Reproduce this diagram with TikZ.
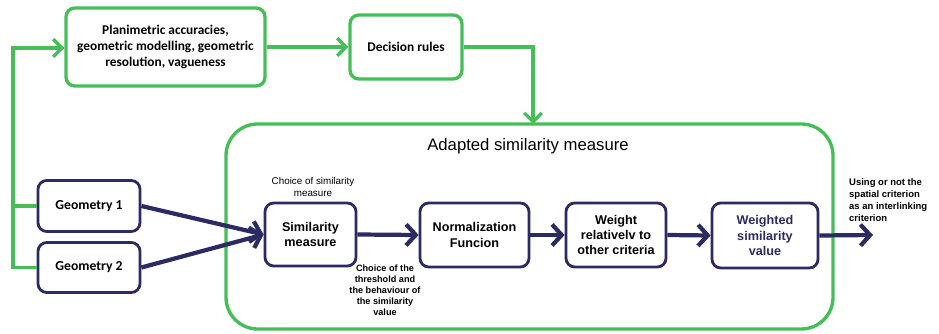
\documentclass[tikz,border=0pt]{standalone}
\usepackage{fontspec}
\setmainfont{Liberation Sans}
\newfontfamily\calibri{Carlito}
\usetikzlibrary{arrows.meta}

\definecolor{boxgreen}{HTML}{45BE57}
\definecolor{navy}{HTML}{2B2A62}

\begin{document}
\begin{tikzpicture}[
  gbox/.style={draw=boxgreen, line width=1.9pt, rounded corners=5pt, align=center,
    font=\calibri\bfseries\fontsize{7.6}{9}\selectfont},
  nbox/.style={draw=navy, line width=1.6pt, rounded corners=5pt, align=center,
    minimum height=1.28cm, font=\bfseries\fontsize{7.2}{8.6}\selectfont},
  gline/.style={draw=boxgreen, line width=1.9pt},
  garrow/.style={gline, -{Straight Barb[length=5pt,width=10pt,line width=1.9pt]}},
  narrow/.style={draw=navy, line width=2.4pt, -{Straight Barb[length=5.5pt,width=12pt,line width=2.4pt]}},
  note/.style={align=center, font=\fontsize{5.6}{6.3}\selectfont}
]
\useasboundingbox (0,0) rectangle (18.78,6.66);

% top row
\node[gbox, minimum width=3.98cm, minimum height=1.56cm] (plan) at (3.31,5.72)
  {Planimetric accuracies,\\geometric modelling, geometric\\resolution, vagueness};
\node[gbox, minimum width=2.24cm, minimum height=1.28cm] (rules) at (8.12,5.72) {Decision rules};

% adapted similarity measure
\draw[boxgreen, line width=1.9pt, rounded corners=18pt] (4.52,0.08) rectangle (16.66,4.18);
\coordinate (adtop) at (10.66,4.18);
\node[font=\fontsize{9.5}{11}\selectfont] (title) at (10.56,3.73) {Adapted similarity measure};

% geometries
\node[nbox, minimum width=2.04cm, minimum height=1.02cm, font=\calibri\bfseries\fontsize{7.8}{9}\selectfont] (geoa) at (1.78,2.54) {Geometry 1};
\node[nbox, minimum width=2.04cm, minimum height=1.0cm, font=\calibri\bfseries\fontsize{7.8}{9}\selectfont] (geob) at (1.78,1.31) {Geometry 2};

\node[nbox, minimum width=1.82cm, minimum height=1.26cm] (sim) at (6.21,1.97) {Similarity\\measure};
\node[nbox, minimum width=2.18cm] (norm) at (9.49,1.96) {Normalization\\Funcion};
\node[nbox, minimum width=2.0cm] (weight) at (12.32,1.96) {Weight\\relativelv to\\other criteria};
\node[nbox, minimum width=2.12cm, minimum height=1.3cm, text=navy] (wsv) at (15.30,1.95) {Weighted\\similarity\\value};
\coordinate (out) at (17.46,1.96);

\node[note] (choice) at (6.26,2.92) {Choice of similarity\\measure};
\node[note, font=\bfseries\fontsize{5.2}{6.2}\selectfont] (thresh) at (7.7,0.86)
  {Choice of the\\threshold and\\the behaviour of\\the similarity\\value};
\node[note, align=left, anchor=west, font=\bfseries\fontsize{5.4}{6.8}\selectfont] (crit) at (16.86,2.66)
  {Using or not the\\spatial criterion\\as an interlinking\\criterion};

% green connectors
\coordinate (trunk) at (0.26,5.70);
\draw[garrow] (geob.west) -- (geob.west -| trunk) -- (trunk) -- (trunk -| plan.west);
\draw[gline] (geoa.west) -- (geoa.west -| trunk);
\draw[garrow] (plan.east) -- (rules.west);
\draw[garrow] (rules.east) -| (adtop);

% navy connectors
\draw[narrow] (geoa.east) -- (sim.west);
\draw[narrow] (geob.east) -- (sim.west);
\draw[narrow] (sim.east) -- (norm.west);
\draw[narrow] (norm.east) -- (weight.west);
\draw[narrow] (weight.east) -- (wsv.west);
\draw[narrow] (wsv.east) -- (out);

\end{tikzpicture}
\end{document}
